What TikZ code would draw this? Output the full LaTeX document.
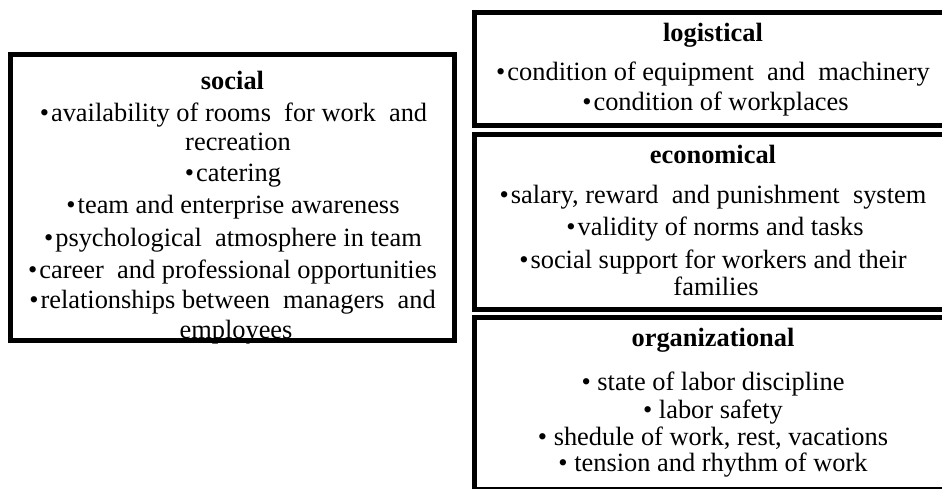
\documentclass[tikz,border=0pt]{standalone}
\usepackage{fontspec}
\setmainfont{Liberation Serif}
\usetikzlibrary{positioning}

\tikzset{
  frame/.style={draw, line width=2.5pt, inner sep=0pt},
  head/.style={anchor=base, inner sep=0pt, font=\fontsize{13.2}{15}\selectfont\bfseries},
  item/.style={anchor=base, inner sep=0pt, font=\fontsize{13.2}{15}\selectfont}
}
\newcommand{\dotitem}{\textbullet\kern1pt}

\begin{document}
\begin{tikzpicture}[x=0.5pt,y=-0.5pt]
		\useasboundingbox (0,0) rectangle (942,488);
		\clip (0,0) rectangle (942,488);
		% boxes
		\node[frame, minimum width=222pt, minimum height=143pt](social) at (232.5,197.5) {};
		\node[frame, minimum width=238.5pt, minimum height=56.75pt](logist) at (713,68.75) {};
		\node[frame, minimum width=238.5pt, minimum height=87.5pt](econ) at (713,222) {};
		\node[frame, minimum width=238.5pt, minimum height=85.75pt](organ) at (713,403.25) {};
		% social
		\node[head](s0) at (232.5,89) {social};
		\node[item](s1) at (233.5,121.7) {\dotitem availability of rooms\ \ for work\ \ and};
		\node[item](s2) at (238,150) {recreation};
		\node[item](s3) at (233,181.7) {\dotitem catering};
		\node[item](s4) at (233,213) {\dotitem team and enterprise awareness};
		\node[item](s5) at (233,246.7) {\dotitem psychological\ \ atmosphere in team};
		\node[item](s6) at (232.5,278) {\dotitem career\ \ and professional opportunities};
		\node[item](s7) at (232.5,308) {\dotitem relationships between\ \ managers\ \ and};
		\node[item](s8) at (236,338) {employees};
		% logistical
		\node[head](l0) at (713,41.7) {logistical};
		\node[item](l1) at (713,80) {\dotitem condition of equipment\ \ and\ \ machinery};
		\node[item](l2) at (715.5,110) {\dotitem condition of workplaces};
		% economical
		\node[head](e0) at (713,163) {economical};
		\node[item](e1) at (713,203) {\dotitem salary, reward\ \ and punishment\ \ system};
		\node[item](e2) at (715,235) {\dotitem validity of norms and tasks};
		\node[item](e3) at (713,268) {\dotitem social support for workers and their};
		\node[item](e4) at (716,295) {families};
		% organizational
		\node[head](o0) at (713,346.7) {organizational};
		\node[item](o1) at (713,390) {\textbullet\ state of labor discipline};
		\node[item](o2) at (713,418) {\textbullet\ labor safety};
		\node[item](o3) at (713,445) {\textbullet\ shedule of work, rest, vacations};
		\node[item](o4) at (713,471.7) {\textbullet\ tension and rhythm of work};
	\end{tikzpicture}
\end{document}
